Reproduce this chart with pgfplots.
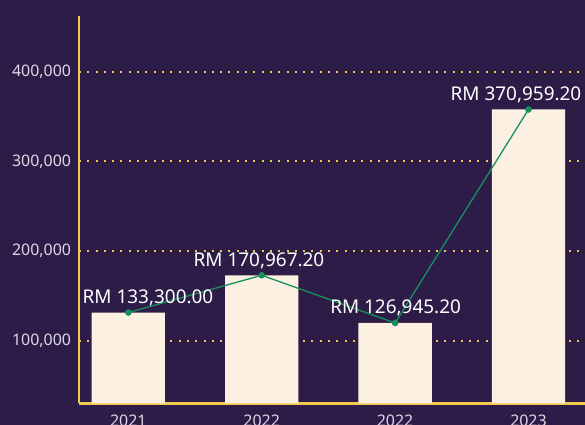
\documentclass[border=0pt]{standalone}
\usepackage{fontspec}
\setmainfont{Noto Sans}
\usepackage{pgfplots}
\pgfplotsset{compat=1.18}
\definecolor{bg}{HTML}{2D1C47}
\definecolor{gold}{HTML}{F2C94C}
\definecolor{cream}{HTML}{FCF0E3}
\definecolor{linegreen}{HTML}{17905E}
\definecolor{ticktext}{HTML}{DCD8E4}

% lx: where the value label is centred (labels are not all centred on their bar)
\pgfplotstableread{
x y lx label
0 131700 0.1477 {RM 133,300.00}
1 173200 0.9798 {RM 170,967.20}
2 120050 2.0037 {RM 126,945.20}
3 357900 2.9063 {RM 370,959.20}
}\sales

\begin{document}
\begin{tikzpicture}
\path[use as bounding box, fill=bg] (-79bp,-21.7bp) rectangle (506bp,403.3bp);
\begin{axis}[
  at={(0,0)}, anchor=south west,
  scale only axis, width=506bp, height=387.3bp,
  xmin=-0.3696, xmax=3.4236, ymin=30600, ymax=462000,
  axis x line*=bottom, axis y line*=left,
  axis line style={gold, line width=2.5bp, -},
  xtick={0,1,2,3}, xticklabels={2021,2022,2022,2023},
  ytick={100000,200000,300000,400000},
  yticklabels={{100,000},{200,000},{300,000},{400,000}},
  scaled y ticks=false,
  major tick length=0pt,
  ymajorgrids,
  grid style={gold, line width=2bp, dash pattern=on 2bp off 6.3bp},
  tick label style={font=\fontsize{16}{18}\selectfont, text=ticktext},
  yticklabel style={xshift=-4.4bp},
  xticklabel style={yshift=-8.6bp},
]
\addplot[ybar, bar width=73.3bp, fill=cream, draw=none] table[x=x, y=y] {\sales};
\addplot[linegreen, line width=1.3bp, mark=*, mark size=2.6bp, mark options={fill=linegreen, draw=linegreen}] table[x=x, y=y] {\sales};
\addplot[draw=none, mark=none, nodes near coords, point meta=explicit symbolic,
  nodes near coords style={anchor=base, inner sep=0pt, yshift=9bp,
    text=white, font=\fontsize{19}{21}\selectfont}]
  table[x=lx, y=y, meta=label] {\sales};
\end{axis}
\end{tikzpicture}
\end{document}
